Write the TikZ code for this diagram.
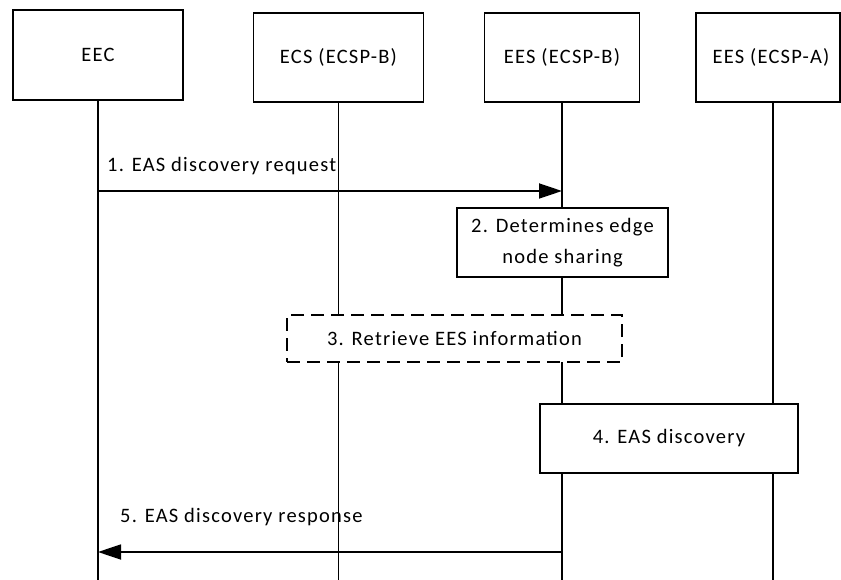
\documentclass[tikz,border=0pt]{standalone}
\usepackage{fontspec}
\setmainfont{Carlito}[LetterSpace=6]
\usetikzlibrary{arrows.meta}
\tikzset{
  ent/.style={draw, line width=1.8pt, fill=white, inner sep=0pt, font=\fontsize{20.5}{26}\selectfont},
  stepbox/.style={draw, line width=1.8pt, fill=white, inner sep=0pt, align=center, font=\fontsize{20.5}{31}\selectfont},
  life/.style={line width=1.8pt},
  msg/.style={line width=1.8pt, -{Triangle[length=23pt,width=15pt]}},
  lbl/.style={anchor=west, inner sep=0pt, font=\fontsize{20.5}{26}\selectfont}
}
\begin{document}
\begin{tikzpicture}[x=1pt,y=-1pt]
\useasboundingbox (0,0) rectangle (841,580);
% coordinates for lifeline ends and message rows
\coordinate (bot) at (0,580);
\coordinate (r1) at (0,191);
\coordinate (r5) at (0,552);
% entity boxes
\node[ent, minimum width=170pt, minimum height=90pt] (eec) at (98,55) {\raisebox{-2pt}{EEC}};
\node[ent, minimum width=170pt, minimum height=89pt] (ecs) at (338.5,57.5) {ECS (ECSP-B)};
\node[ent, minimum width=155pt, minimum height=89pt] (eesb) at (562,57.5) {EES (ECSP-B)};
\node[ent, minimum width=144pt, minimum height=89pt] (eesa) at (768,57.5) {\hspace*{6pt}EES (ECSP-A)};
% lifelines
\coordinate (eesabot) at (773,580);
\draw[life] (eec.south) -- (eec.south |- bot);
\draw[life] (ecs.south) -- (ecs.south |- bot);
\draw[life] (eesb.south) -- (eesb.south |- bot);
\draw[life] (eesabot |- eesa.south) -- (eesabot);
% message 1
\draw[msg] (eec.south |- r1) -- (eesb.south |- r1);
\node[lbl] (l1) at (107,166) {1. EAS discovery request};
% step 2
\node[stepbox, minimum width=211pt, minimum height=69pt] (s2) at (562.5,242.5) {2. Determines edge\\node sharing};
% step 3
\node[stepbox, dash pattern=on 13pt off 7pt, minimum width=335pt, minimum height=47pt] (s3) at (454.5,338.5) {\raisebox{-3pt}{3. Retrieve EES information}};
% step 4
\node[stepbox, minimum width=258pt, minimum height=69pt] (s4) at (669,438.5) {\raisebox{-3pt}{4. EAS discovery}};
% message 5
\draw[msg] (eesb.south |- r5) -- (eec.south |- r5);
\node[lbl] (l5) at (120,517) {5. EAS discovery response};
\end{tikzpicture}
\end{document}
